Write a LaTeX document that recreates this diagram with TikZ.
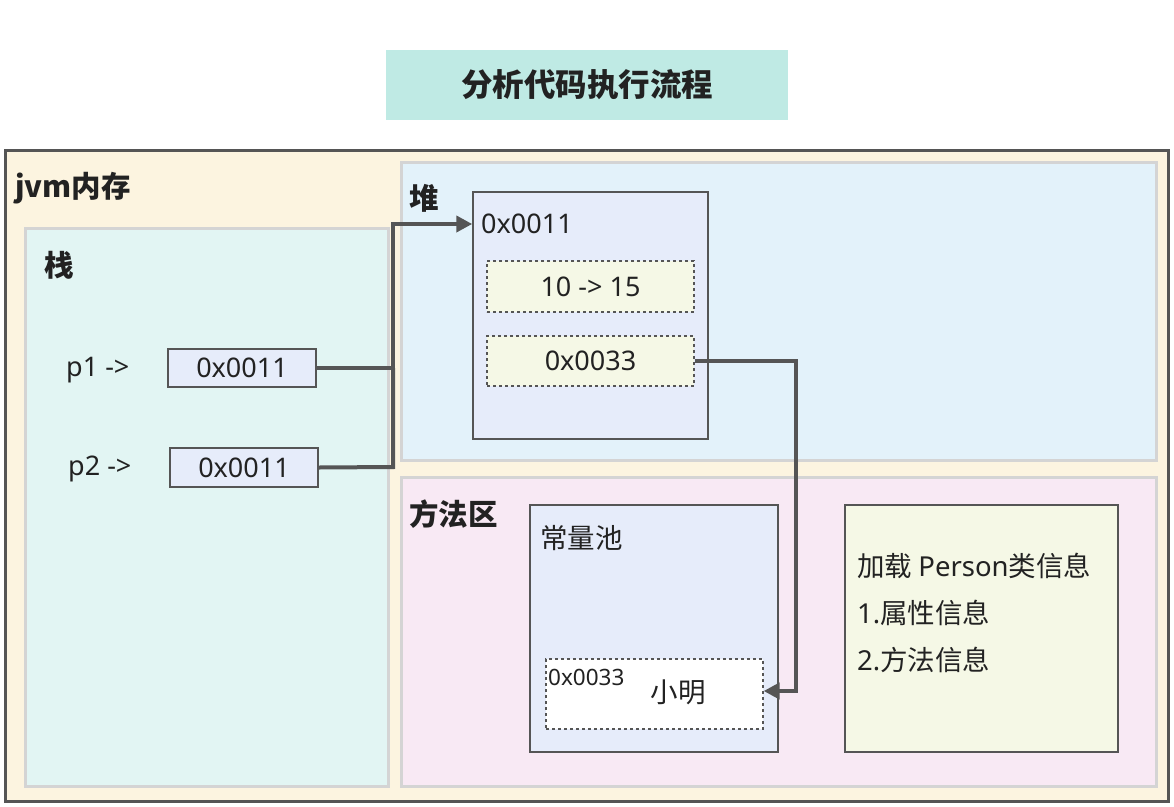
\documentclass[tikz,border=0pt]{standalone}
\usepackage{fontspec}
\setmainfont{Noto Sans CJK SC}
\newfontfamily\lat{Noto Sans}
\usetikzlibrary{arrows.meta}
\definecolor{dk}{HTML}{555555}
\definecolor{txt}{HTML}{222222}
\definecolor{titlebg}{HTML}{BFEAE4}
\definecolor{jvmbg}{HTML}{FCF4E0}
\definecolor{stackbg}{HTML}{E2F5F3}
\definecolor{heapbg}{HTML}{E3F2FA}
\definecolor{methbg}{HTML}{F8E9F4}
\definecolor{objbg}{HTML}{E6ECFA}
\definecolor{fieldbg}{HTML}{F5F8E6}
\definecolor{areaborder}{HTML}{D4D4D4}
\tikzset{
  area/.style={draw=areaborder, line width=3pt},
  objbox/.style={draw=dk, line width=1.5pt, fill=objbg},
  fieldbox/.style={draw=dk, line width=1.3pt, dashed, dash pattern=on 3pt off 3pt, fill=fieldbg},
  hdr/.style={font=\fontsize{29.5}{34}\selectfont\bfseries, text=txt, anchor=west, inner sep=0pt},
  lbl/.style={font=\fontsize{27.5}{32}\selectfont, text=txt, inner sep=0pt},
  latlbl/.style={font=\fontsize{27}{32}\selectfont\lat, text=txt, inner sep=0pt},
  conn/.style={draw=dk, line width=4pt, line join=miter},
  arr/.style={conn, -{Triangle[length=16pt,width=16pt]}, shorten >=0pt}
}
\begin{document}
\begin{tikzpicture}[x=1pt,y=-1pt]
\useasboundingbox (0,0) rectangle (1174,806);
\fill[white] (0,0) rectangle (1174,806);
% title
\node[fill=titlebg, minimum width=402pt, minimum height=70pt, inner sep=0pt,
  font=\fontsize{31.5}{36}\selectfont\bfseries, text=txt] (title) at (587,85) {分析代码执行流程};
% jvm
\node[draw=dk, line width=3pt, fill=jvmbg, minimum width=1163pt, minimum height=651pt, inner sep=0pt] (jvm) at (586.5,475.5) {};
\node[hdr] (jvmlbl) at (15,188) {jvm内存};
% stack
\node[area, fill=stackbg, minimum width=363pt, minimum height=558pt, inner sep=0pt] (stack) at (206.5,507) {};
\node[hdr] (stacklbl) at (44,265) {栈};
% heap
\node[area, fill=heapbg, minimum width=755pt, minimum height=298pt, inner sep=0pt] (heap) at (778.5,311) {};
\node[hdr] (heaplbl) at (409,198) {堆};
% method area
\node[area, fill=methbg, minimum width=755pt, minimum height=309pt, inner sep=0pt] (meth) at (778.5,631.5) {};
\node[hdr] (methlbl) at (409,514) {方法区};
% stack entries
\node[latlbl, anchor=west] (p1) at (66,370) {p1 -{}>};
\node[objbox, latlbl, minimum width=148pt, minimum height=38pt] (r1) at (242,368) {0x0011};
\node[latlbl, anchor=west] (p2) at (68,469) {p2 -{}>};
\node[objbox, latlbl, minimum width=148pt, minimum height=39pt] (r2) at (244,467.5) {0x0011};
% heap object
\node[objbox, minimum width=235pt, minimum height=247pt, inner sep=0pt] (obj) at (590.5,315.5) {};
\node[latlbl, anchor=west] (objaddr) at (481,224) {0x0011};
\node[fieldbox, latlbl, minimum width=207pt, minimum height=51pt] (f1) at (590.5,286.5) {10 -{}> 15};
\node[fieldbox, latlbl, minimum width=207pt, minimum height=50pt] (f2) at (590.5,361) {0x0033};
% constant pool
\node[objbox, minimum width=248pt, minimum height=247pt, inner sep=0pt] (pool) at (654,628.5) {};
\node[lbl, anchor=west] (poollbl) at (540,538) {常量池};
\node[draw=dk, line width=1.3pt, dashed, dash pattern=on 3pt off 3pt, fill=white, minimum width=217pt, minimum height=70pt, inner sep=0pt] (str) at (654.5,694) {};
\node[font=\fontsize{22.5}{26}\selectfont\lat, text=txt, anchor=west, inner sep=0pt] (straddr) at (548,677) {0x0033};
\node[lbl] (strval) at (678,692) {小明};
% class info
\node[draw=dk, line width=1.5pt, fill=fieldbg, minimum width=273pt, minimum height=247pt, inner sep=0pt] (cls) at (981.5,628.5) {};
\node[lbl, anchor=west] (c1) at (857,566) {加载 {\lat Person}类信息};
\node[lbl, anchor=west] (c2) at (857,613) {{\lat 1.}属性信息};
\node[lbl, anchor=west] (c3) at (857,660) {{\lat 2.}方法信息};
% connectors
\coordinate (j1) at (393,368);
\draw[conn] (r1.east) -- (j1);
\draw[conn] (r2.east) -- (393,467) -- (j1);
\draw[arr] (j1) -- (393,224) -- (obj.west |- 0,224);
\draw[arr] (f2.east) -- (796,361) -- (796,691) -- (str.east |- 0,691);
\end{tikzpicture}
\end{document}
